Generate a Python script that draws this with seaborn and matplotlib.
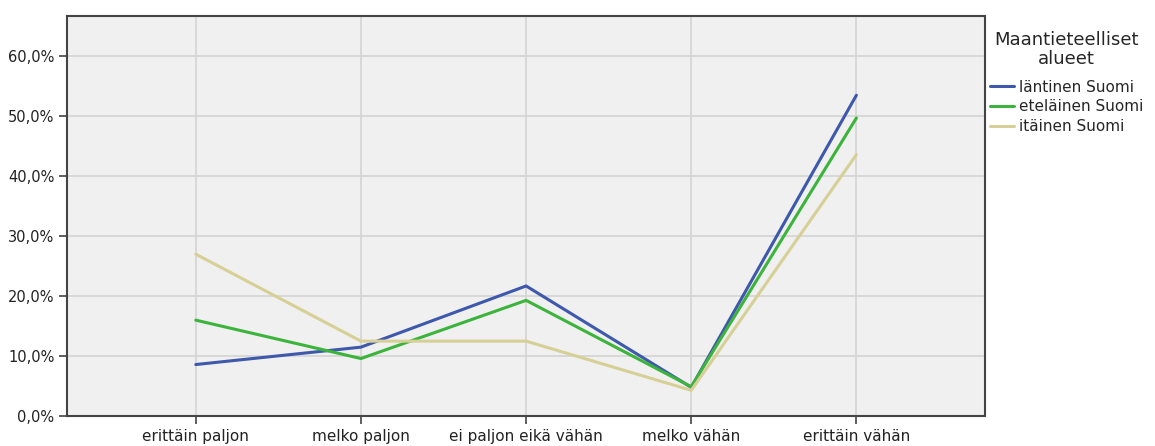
import pandas as pd
import matplotlib
matplotlib.use("Agg")
import matplotlib.pyplot as plt
import matplotlib.ticker as mticker
import seaborn as sns

sns.set_theme(style="whitegrid")
plt.rcParams['font.family'] = ['DejaVu Sans']

# data
categories = ["erittäin paljon", "melko paljon", "ei paljon eikä vähän", "melko vähän", "erittäin vähän"]
lantinen = [8.6, 11.5, 21.7, 4.8, 53.5]
etelainen = [16.0, 9.6, 19.3, 4.9, 49.7]
itainen = [27.0, 12.5, 12.5, 4.3, 43.6]
series_names = ["läntinen Suomi", "eteläinen Suomi", "itäinen Suomi"]
colors = ["#3e58ac", "#3cb43c", "#d6d096"]

rows = []
for name, vals in zip(series_names, [lantinen, etelainen, itainen]):
    for i, (cat, v) in enumerate(zip(categories, vals)):
        rows.append({"pos": i, "kategoria": cat, "osuus": v, "alue": name})
df = pd.DataFrame(rows)

fig = plt.figure(figsize=(11.55, 4.46), dpi=100)
ax = fig.add_axes([0.058, 0.067, 0.795, 0.897])
ax.set_facecolor("#f0f0f0")

sns.lineplot(data=df, x="pos", y="osuus", hue="alue", hue_order=series_names,
             palette=colors, linewidth=2.2, sort=False, ax=ax)

ax.set_xlim(-0.78, len(categories) - 1 + 0.78)
ax.set_ylim(0, 66.7)
ax.set_xticks(range(len(categories)))
ax.set_xticklabels(categories, fontsize=11)
ax.set_yticks([0, 10, 20, 30, 40, 50, 60])
ax.yaxis.set_major_formatter(mticker.FuncFormatter(lambda v, p: f"{v:.1f}".replace(".", ",") + "%"))
ax.set_xlabel("")
ax.set_ylabel("")

ax.grid(True, color="#d4d4d4", linewidth=1.2)
for s in ax.spines.values():
    s.set_color("#444444")
    s.set_linewidth(1.5)
ax.tick_params(axis="both", which="both", direction="out", length=6, width=1.2,
               color="#444444", labelcolor="#222222", pad=3,
               bottom=True, left=True)
ax.tick_params(axis="y", labelsize=10.5)

leg = ax.legend(title="Maantieteelliset\nalueet", loc="upper left",
                bbox_to_anchor=(1.0, 0.975), frameon=False, fontsize=11,
                title_fontsize=13, handlelength=1.6, handletextpad=0.3,
                labelspacing=0.3, borderaxespad=0.1, borderpad=0.2,
                alignment="center")
leg.get_title().set_multialignment("center")
leg.get_title().set_linespacing(1.1)
# a bit more room between title and entries, like the original
leg._legend_box.sep = 8.5

fig.savefig("out.png", dpi=100)
